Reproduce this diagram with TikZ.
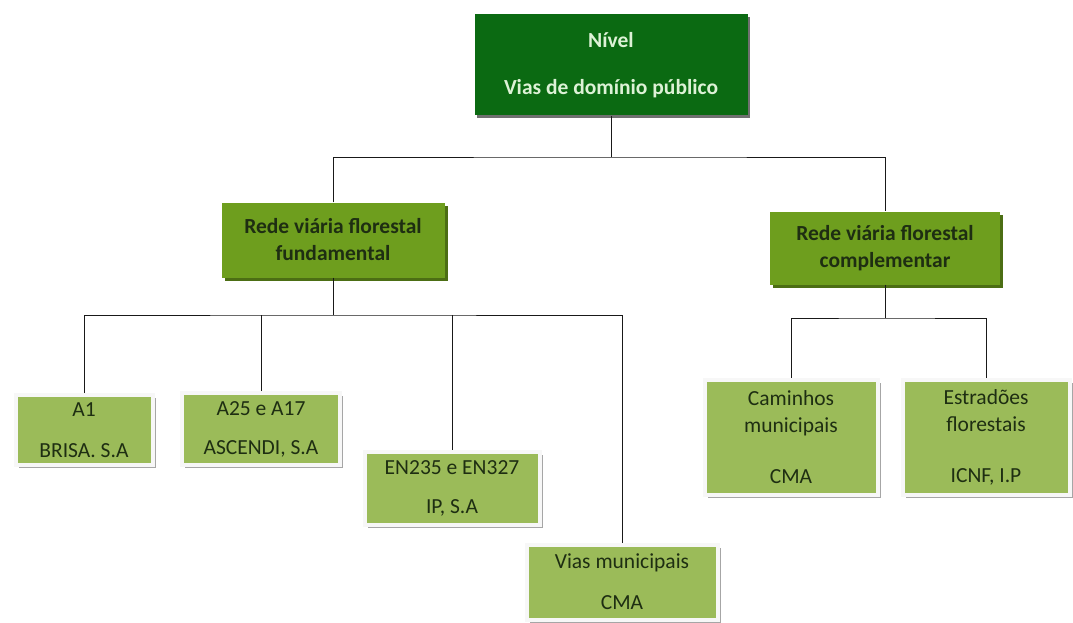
\documentclass[tikz,border=0pt]{standalone}
\usepackage{fontspec}
\setmainfont{Carlito}
\usetikzlibrary{shadows}
\definecolor{topgreen}{HTML}{0B6A12}
\definecolor{toptext}{HTML}{DDF2D6}
\definecolor{midgreen}{HTML}{6E9E1E}
\definecolor{midshadow}{HTML}{4C6E14}
\definecolor{lowgreen}{HTML}{9BBB59}
\definecolor{boxtext}{HTML}{1E2E12}
\tikzset{
  topbox/.style={rectangle, fill=topgreen, text=toptext, font=\fontsize{21.5}{26}\selectfont\bfseries,
    align=center, inner sep=0pt,
    drop shadow={shadow xshift=2pt, shadow yshift=-3pt, fill=black!70, opacity=0.8}},
  midbox/.style={rectangle, fill=midgreen, text=boxtext, font=\fontsize{21.5}{27}\selectfont\bfseries,
    align=center, inner sep=0pt,
    drop shadow={shadow xshift=3pt, shadow yshift=-3pt, fill=midshadow, opacity=1}},
  leafbox/.style={rectangle, fill=lowgreen, text=boxtext, font=\fontsize{21.5}{27}\selectfont,
    align=center, inner sep=0pt, draw=white!94!gray, line width=4pt,
    drop shadow={shadow xshift=3pt, shadow yshift=-3pt, fill=gray!70, opacity=1}},
  link/.style={draw=black!90, line width=0.9pt}
}
\begin{document}
\begin{tikzpicture}[x=1pt, y=-1pt]
  \useasboundingbox (0,0) rectangle (1073,623);

  % Nodes
  \node (top) [topbox, minimum width=273pt, minimum height=101pt] at (611,65)
    {Nível\\[21pt]Vias de domínio público};
  \node (fund) [midbox, minimum width=223pt, minimum height=75pt] at (333,240)
    {Rede viária florestal\\fundamental};
  \node (comp) [midbox, minimum width=230pt, minimum height=73pt] at (885,248)
    {Rede viária florestal\\complementar};

  \node (a1) [leafbox, minimum width=137pt, minimum height=70pt] at (84,430)
    {A1\\[14pt]BRISA. S.A};
  \node (a25) [leafbox, minimum width=158pt, minimum height=72pt] at (261,429)
    {A25 e A17\\[12pt]ASCENDI, S.A};
  \node (en) [leafbox, minimum width=175pt, minimum height=73pt] at (452,488)
    {EN235 e EN327\\[12pt]IP, S.A};
  \node (vias) [leafbox, minimum width=191pt, minimum height=75pt] at (622,582)
    {Vias municipais\\[14pt]CMA};
  \node (cam) [leafbox, minimum width=173pt, minimum height=115pt] at (791,437)
    {Caminhos\\municipais\\[24pt]CMA};
  \node (est) [leafbox, minimum width=167pt, minimum height=115pt] at (986,437)
    {Estradões\\florestais\\[24pt]ICNF, I.P};

  % Edges
  \coordinate (j1) at (611,157);
  \coordinate (j2) at (333,315);
  \coordinate (j3) at (885,318);
  \draw[link] (top.south) -- (j1);
  \draw[link] (fund.north) |- (j1) -| (comp.north);
  \draw[link] (fund.south) -- (j2);
  \draw[link] (a1.north) |- (j2) -| (vias.north);
  \draw[link] (a25.north) -- (a25.north |- j2);
  \draw[link] (en.north) -- (en.north |- j2);
  \draw[link] (comp.south) -- (j3);
  \draw[link] (cam.north) |- (j3) -| (est.north);
\end{tikzpicture}
\end{document}
